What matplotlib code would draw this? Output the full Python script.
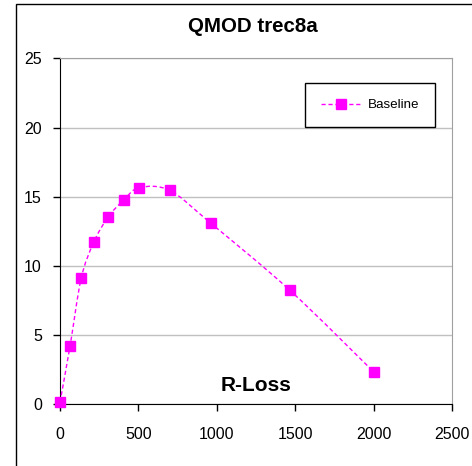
import matplotlib
matplotlib.use("Agg")
import matplotlib.pyplot as plt
import numpy as np
from matplotlib.path import Path
from matplotlib.patches import PathPatch, Rectangle
from matplotlib.lines import Line2D

# values
r_loss = [0, 64, 135, 215, 305, 405, 505, 700, 960, 1465, 2000]
baseline = [0.15, 4.2, 9.1, 11.7, 13.5, 14.75, 15.65, 15.45, 13.1, 8.25, 2.35]
x_ticks = [0, 500, 1000, 1500, 2000, 2500]
y_ticks = [0, 5, 10, 15, 20, 25]

MAGENTA = "#FF00FF"
plt.rcParams["font.family"] = ["Liberation Sans", "DejaVu Sans"]


def smooth_path(xs, ys):
    """Excel-style smoothed line: Catmull-Rom segments as cubic Beziers."""
    pts = np.column_stack([xs, ys]).astype(float)
    n = len(pts)
    verts, codes = [pts[0]], [Path.MOVETO]
    for i in range(n - 1):
        p0 = pts[max(i - 1, 0)]
        p1, p2 = pts[i], pts[i + 1]
        p3 = pts[min(i + 2, n - 1)]
        c1 = p1 + (p2 - p0) / 6
        c2 = p2 - (p3 - p1) / 6
        verts += [c1, c2, p2]
        codes += [Path.CURVE4] * 3
    return Path(verts, codes)


fig = plt.figure(figsize=(4.72, 4.66), dpi=100)
# outer chart frame (cut off at right/bottom like the reference)
fig.patches.append(Rectangle((16 / 472, -0.05), 1.0, 1 - 4 / 466 + 0.05,
                             transform=fig.transFigure, fill=False,
                             edgecolor="black", lw=1.0))

ax = fig.add_axes([60 / 472, 1 - 404.3 / 466, 392 / 472, 346 / 466])
ax.set_xlim(0, 2500)
ax.set_ylim(0, 25)

ax.add_patch(PathPatch(smooth_path(r_loss, baseline), fill=False,
                       edgecolor=MAGENTA, lw=1.0, linestyle=(0, (3, 2)),
                       zorder=3))
ax.plot(r_loss, baseline, linestyle="none", marker="s", ms=6.5,
        color=MAGENTA, zorder=4, clip_on=False)

ax.set_xticks(x_ticks)
ax.set_yticks(y_ticks)
ax.tick_params(axis="both", direction="out", length=5, width=1,
               labelsize=11.5, colors="black")
ax.tick_params(axis="x", pad=11)
ax.tick_params(axis="y", pad=8)
ax.yaxis.grid(True, color="#c0c0c0", lw=1)
ax.set_axisbelow(True)
for s in ("top", "right"):
    ax.spines[s].set_color("#a0a0a0")
for s in ("left", "bottom"):
    ax.spines[s].set_color("black")

ax.text(0.50, 0.055, "R-Loss", transform=ax.transAxes, ha="center",
        va="center", fontsize=15, fontweight="bold")
fig.text(253 / 472, 1 - 27 / 466, "QMOD trec8a", ha="center", va="center",
         fontsize=14.8, fontweight="bold")

handle = Line2D([], [], color=MAGENTA, lw=1.0, linestyle=(0, (3, 2)),
                marker="s", ms=6.5)
leg = ax.legend([handle], ["Baseline"], loc="upper right",
                bbox_to_anchor=(435 / 472, 1 - 83 / 466),
                bbox_transform=fig.transFigure, fontsize=9.6, frameon=True,
                fancybox=False, framealpha=1, edgecolor="black",
                borderpad=1.2, handlelength=3.0, handletextpad=0.5,
                borderaxespad=0)
leg.get_frame().set_linewidth(1.0)

fig.savefig("out.png", dpi=100)
